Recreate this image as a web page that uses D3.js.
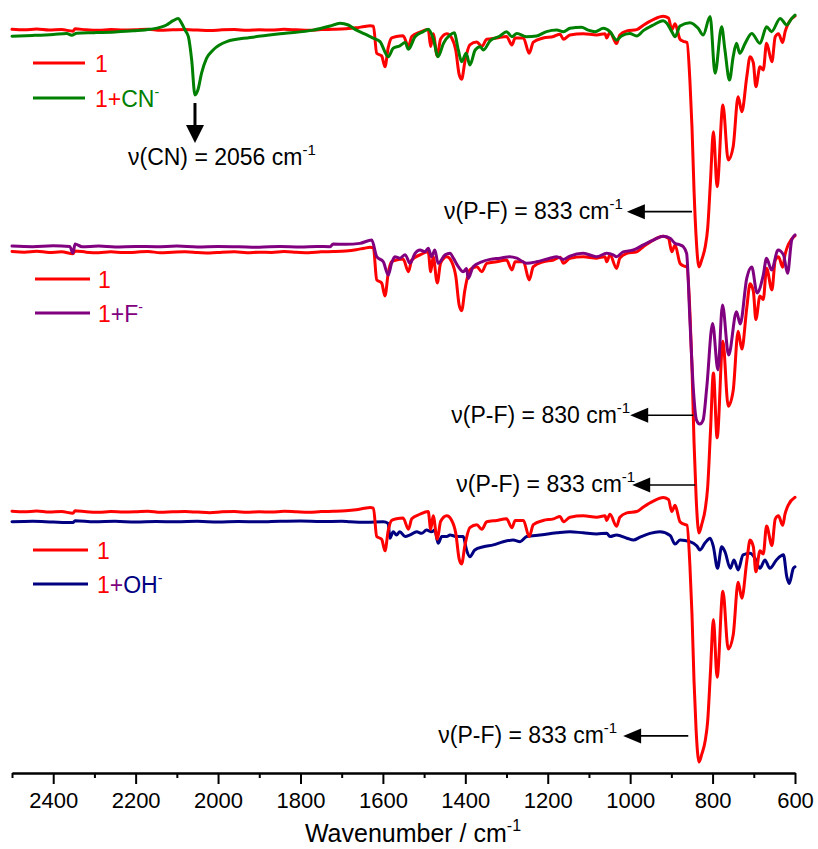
<!DOCTYPE html>
<html><head><meta charset="utf-8">
<script src="https://cdn.jsdelivr.net/npm/d3@7"></script>
<style>
body{margin:0;background:#fff}
svg{display:block}
text{font-family:"Liberation Sans",Arial,sans-serif;fill:#000}
</style>
</head><body>
<svg id="chart" width="818" height="849"></svg>
<script>
// ---------- data (wavenumber cm-1, relative transmittance) ----------
const majorTicks = [2400,2200,2000,1800,1600,1400,1200,1000,800,600];
const minorTicks = [2500,2300,2100,1900,1700,1500,1300,1100,900,700];

// compound 1 (reference, shown in all three panels)
const spec1 = [[2500,93.2],[2470,93.0],[2440,93.3],[2410,92.9],[2380,93.1],[2352,92.5],[2347,93.4],[2320,93.0],[2290,92.8],[2260,93.1],[2230,92.9],[2200,93.0],[2170,93.2],[2140,92.8],[2110,93.0],[2080,93.1],[2050,92.9],[2020,92.7],[1990,93.0],[1960,93.1],[1930,92.8],[1900,93.0],[1870,92.9],[1840,93.2],[1810,93.0],[1780,92.8],[1750,93.1],[1720,93.2],[1690,93.4],[1665,93.8],[1645,94.3],[1631,94.6],[1623,94.4],[1615,83.8],[1603,82.8],[1595,78.5],[1587,86.1],[1579,89.8],[1567,90.4],[1551,90.7],[1538,86.5],[1530,90.4],[1510,92.1],[1490,93.1],[1484,86.5],[1478,91.5],[1468,82.8],[1460,89.4],[1445,91.5],[1433,89.8],[1423,84.9],[1415,75.5],[1409,73.6],[1401,80.5],[1389,87.1],[1372,88.2],[1360,86.5],[1348,89.3],[1324,89.8],[1300,90.4],[1287,87.1],[1279,89.8],[1259,89.8],[1245,83.8],[1235,88.2],[1211,89.8],[1186,90.4],[1170,91.3],[1162,89.3],[1146,91.0],[1114,91.5],[1081,91.0],[1061,91.5],[1057,89.8],[1049,92.1],[1033,87.6],[1025,91.0],[1008,92.6],[984,93.1],[968,94.8],[944,97.0],[920,98.3],[907,97.6],[899,93.1],[891,95.4],[879,89.3],[871,88.5],[862,88.0],[855,73],[850,55],[845,30],[840,12],[833,0],[826,3],[818,7.8],[812,15],[805,34],[798,53],[789,31.5],[775,63.5],[762,42],[750,47.2],[738,66.8],[729,60.9],[717,74.6],[709,82.5],[701,80],[695,70.7],[685,78.5],[677,77.3],[669,87.7],[656,80.5],[648,90.3],[640,91.5],[630,88],[624,92.3],[616,95.6],[600,98.4]];

// 1 + CN-
const specCN = [[2500,90.5],[2450,90.8],[2400,91.2],[2367,91.6],[2355,90.9],[2343,91.7],[2300,91.9],[2250,92.2],[2206,92.6],[2165,93.2],[2125,94.9],[2109,96.6],[2097,97.5],[2088,95.5],[2080,92.9],[2072,90.3],[2064,81.2],[2056,67.5],[2049,69.4],[2040,76],[2028,81.8],[2012,85.1],[1979,88.4],[1922,90],[1842,91.6],[1769,92.9],[1728,94.5],[1704,95.6],[1684,94.9],[1664,92.9],[1639,91],[1623,89.7],[1607,88.4],[1587,82.5],[1575,85.8],[1559,86.7],[1546,88],[1538,85.4],[1522,90.3],[1502,92.3],[1490,93.2],[1478,89.7],[1466,82.5],[1453,87.7],[1437,91],[1427,91.9],[1417,85.1],[1409,80.5],[1398,83.8],[1389,79.2],[1376,85.1],[1364,86.4],[1356,85.1],[1340,88.7],[1316,90.6],[1300,92.3],[1287,90.3],[1275,91.6],[1251,90.3],[1227,90.6],[1203,92.3],[1178,92.9],[1162,92.3],[1146,93.6],[1118,94],[1102,92.9],[1085,92.3],[1065,93.6],[1049,92.3],[1033,89],[1021,90.6],[1001,91.6],[984,90.6],[968,92.7],[944,94.9],[920,96.6],[911,95.6],[899,92.3],[891,90.3],[879,94.5],[855,95.8],[835,93.6],[823,91],[806,98.2],[794,76],[778,94.2],[770,85.1],[759,73.3],[750,82.5],[742,87.7],[734,83.8],[721,87.7],[705,91.6],[685,87.7],[669,94.2],[657,92.3],[636,97.5],[620,94.9],[608,97.5],[600,98.8]];

// 1 + F-
const specF = [[2500,95.0],[2450,94.8],[2400,95.1],[2360,94.9],[2352,92.7],[2347,95.7],[2330,94.8],[2290,95.0],[2250,94.7],[2200,94.9],[2150,94.8],[2100,95.0],[2050,94.7],[2000,94.9],[1950,94.8],[1900,94.6],[1850,94.9],[1800,94.7],[1760,94.9],[1728,94.8],[1721,95.7],[1690,95.6],[1656,95.9],[1627,97],[1615,91.5],[1599,89.8],[1587,85.4],[1579,89.3],[1571,91.5],[1559,91],[1546,92.1],[1534,89.3],[1522,92.6],[1510,93.7],[1498,93.1],[1490,94.3],[1482,91.5],[1474,93.7],[1466,89.3],[1449,92.1],[1437,92.6],[1429,91],[1417,88.2],[1405,86.5],[1397,87.6],[1393,84.3],[1381,88.2],[1360,89.8],[1340,90.6],[1316,91],[1292,91.5],[1275,91],[1251,89.3],[1227,89.8],[1195,91],[1178,91.5],[1162,90.6],[1146,91.7],[1114,92.6],[1081,91.5],[1057,92.6],[1041,92.1],[1033,91.5],[1017,93.1],[992,93.7],[968,95.4],[944,97],[920,98.3],[903,97.6],[891,95.9],[879,95.4],[871,94.8],[863,92.6],[855,70.5],[847,48.4],[839,37.4],[831,36.1],[823,37.4],[814,48.4],[800,69.4],[787,54],[776,75.5],[761,58.9],[742,73.3],[733,69.2],[717,84.4],[705,88.1],[692,79.5],[677,85.4],[669,91],[657,87.1],[641,93.7],[628,92.1],[618,86],[608,97],[600,98.7]];

// 1 + OH-
const specOH = [[2500,89.3],[2450,89.5],[2400,89.2],[2352,89.0],[2347,89.7],[2300,89.3],[2250,89.5],[2200,89.2],[2150,89.4],[2100,89.3],[2050,89.5],[2000,89.2],[1950,89.4],[1900,89.3],[1850,89.5],[1800,89.6],[1750,89.4],[1700,89.5],[1680,89.3],[1640,89.1],[1599,89.3],[1587,88.7],[1583,83.2],[1575,85.6],[1567,84.4],[1559,85.6],[1546,83.8],[1534,84.4],[1518,85.6],[1506,85],[1494,86.2],[1482,85.6],[1474,86.2],[1466,81.3],[1457,83.8],[1445,83.8],[1437,84.4],[1421,83.8],[1405,83.8],[1397,78.8],[1389,76.3],[1377,78.8],[1356,80],[1332,80.7],[1308,81.9],[1284,82.5],[1267,81.9],[1251,83.8],[1219,84.4],[1178,85.2],[1146,85.6],[1114,85.2],[1081,84.8],[1057,85],[1049,83.8],[1033,84.4],[1008,83.2],[992,82.5],[976,83.6],[952,85],[928,85.6],[903,84.2],[891,81],[879,82.5],[855,81.9],[838,80.3],[831,78.8],[818,81.5],[806,83.2],[798,80],[788,72],[778,80],[770,78.2],[757,72],[748,75.1],[738,71.4],[726,77],[709,77.6],[697,75.7],[685,72],[673,75.1],[661,72],[645,75.1],[628,77],[620,68.9],[614,66.4],[604,72],[600,72.6]];

// annotation values
const pfAnnotations = [
  {panel:0, label:'833', wFrom:850, wTip:1008, t:21.7, dx:-4},
  {panel:1, label:'830', wFrom:847, wTip:1000, t:39.0, dx:0},
  {panel:1, label:'833', wFrom:842, wTip:995,  t:15.9, dx:3},
  {panel:2, label:'833', wFrom:859, wTip:1017, t:9.7,  dx:-6}
];
const cnAnnotation = {w:2056, tFrom:64.3, tTip:48.6, label:'2056'};

// ---------- layout ----------
const svg = d3.select('#chart');
const x = d3.scaleLinear().domain([2500,600]).range([12,795]);
const yScales = [
  d3.scaleLinear().domain([0,100]).range([267,12]),
  d3.scaleLinear().domain([0,100]).range([533,231]),
  d3.scaleLinear().domain([0,100]).range([762,493])
];
const RED='#ff0000', GREEN='#008000', PURPLE='#800080', NAVY='#000080';

const panels = [
  {ref:spec1, sample:specCN, color:GREEN, refOnTop:false},
  {ref:spec1, sample:specF, color:PURPLE, refOnTop:false},
  {ref:spec1, sample:specOH, color:NAVY, refOnTop:true}
];

function drawLine(data, y, color){
  const line = d3.line().curve(d3.curveMonotoneX).x(d=>x(d[0])).y(d=>y(d[1]));
  svg.append('path').datum(data).attr('d',line)
    .attr('fill','none').attr('stroke',color).attr('stroke-width',3)
    .attr('stroke-linejoin','round').attr('stroke-linecap','round');
}
panels.forEach((p,i)=>{
  const y = yScales[i];
  if(p.refOnTop){ drawLine(p.sample,y,p.color); drawLine(p.ref,y,RED); }
  else { drawLine(p.ref,y,RED); drawLine(p.sample,y,p.color); }
});

// ---------- axis ----------
const axisY = 773;
const gMinor = svg.append('g').attr('transform',`translate(0,${axisY})`)
  .call(d3.axisBottom(x).tickValues(minorTicks).tickSize(5).tickSizeOuter(0).tickFormat(''));
const gMajor = svg.append('g').attr('transform',`translate(0,${axisY})`)
  .call(d3.axisBottom(x).tickValues(majorTicks).tickSize(11).tickSizeOuter(0).tickPadding(8).tickFormat(d3.format('d')));
[gMinor,gMajor].forEach(g=>{
  g.selectAll('path,line').attr('stroke','#000').attr('stroke-width',2);
  g.selectAll('text').attr('font-size',22).attr('font-family','"Liberation Sans",Arial,sans-serif').attr('fill','#000');
});

const xt = svg.append('text').attr('x',413).attr('y',842).attr('text-anchor','middle').attr('font-size',25);
xt.append('tspan').text('Wavenumber / cm');
xt.append('tspan').attr('dy',-11).attr('font-size',16).text('-1');

// ---------- legends ----------
const legends = [
  {x1:33,x2:85,yA:63,yB:98, tx:95, sample:GREEN, parts:[['1+',RED],['CN',GREEN]], sup:GREEN},
  {x1:35,x2:90,yA:279,yB:313, tx:98, sample:PURPLE, parts:[['1',RED],['+F',PURPLE]], sup:PURPLE},
  {x1:33,x2:88,yA:550,yB:584, tx:97, sample:NAVY, parts:[['1',RED],['+',PURPLE],['OH',NAVY]], sup:NAVY}
];
legends.forEach(l=>{
  svg.append('line').attr('x1',l.x1).attr('x2',l.x2).attr('y1',l.yA).attr('y2',l.yA).attr('stroke',RED).attr('stroke-width',3);
  svg.append('line').attr('x1',l.x1).attr('x2',l.x2).attr('y1',l.yB).attr('y2',l.yB).attr('stroke',l.sample).attr('stroke-width',3);
  svg.append('text').attr('x',l.tx).attr('y',l.yA+8.5).attr('font-size',23).style('fill',RED).text('1');
  const t = svg.append('text').attr('x',l.tx).attr('y',l.yB+8.5).attr('font-size',23);
  l.parts.forEach(pp=>t.append('tspan').style('fill',pp[1]).text(pp[0]));
  t.append('tspan').attr('dy',-10).attr('font-size',14).style('fill',l.sup).text('-');
});

// ---------- annotations ----------
function arrowText(xEnd, yBase, label){
  const t = svg.append('text').attr('x',xEnd).attr('y',yBase).attr('text-anchor','end').attr('font-size',23);
  t.append('tspan').text('ν(P-F) = '+label+' cm');
  t.append('tspan').attr('dy',-10).attr('font-size',15).text('-1');
}
pfAnnotations.forEach(a=>{
  const y = yScales[a.panel](a.t);
  const xf = x(a.wFrom), xt2 = x(a.wTip);
  const head = 18, hh = 7.5;
  svg.append('line').attr('x1',xf).attr('x2',xt2+head-1).attr('y1',y).attr('y2',y).attr('stroke','#000').attr('stroke-width',1.6);
  svg.append('path').attr('d',`M${xt2},${y}L${xt2+head},${y-hh}L${xt2+head},${y+hh}Z`).attr('fill','#000');
  arrowText(xt2+a.dx, y+7.5, a.label);
});

(function(){
  const a = cnAnnotation, y = yScales[0];
  const xc = x(a.w), y1 = y(a.tFrom), yt = y(a.tTip);
  svg.append('line').attr('x1',xc).attr('x2',xc).attr('y1',y1).attr('y2',yt-17).attr('stroke','#000').attr('stroke-width',3);
  svg.append('path').attr('d',`M${xc},${yt}L${xc-9},${yt-18}L${xc+9},${yt-18}Z`).attr('fill','#000');
  const t = svg.append('text').attr('x',xc-67).attr('y',165).attr('font-size',23);
  t.append('tspan').text('ν(CN) = '+a.label+' cm');
  t.append('tspan').attr('dy',-10).attr('font-size',15).text('-1');
})();
</script>
</body></html>
